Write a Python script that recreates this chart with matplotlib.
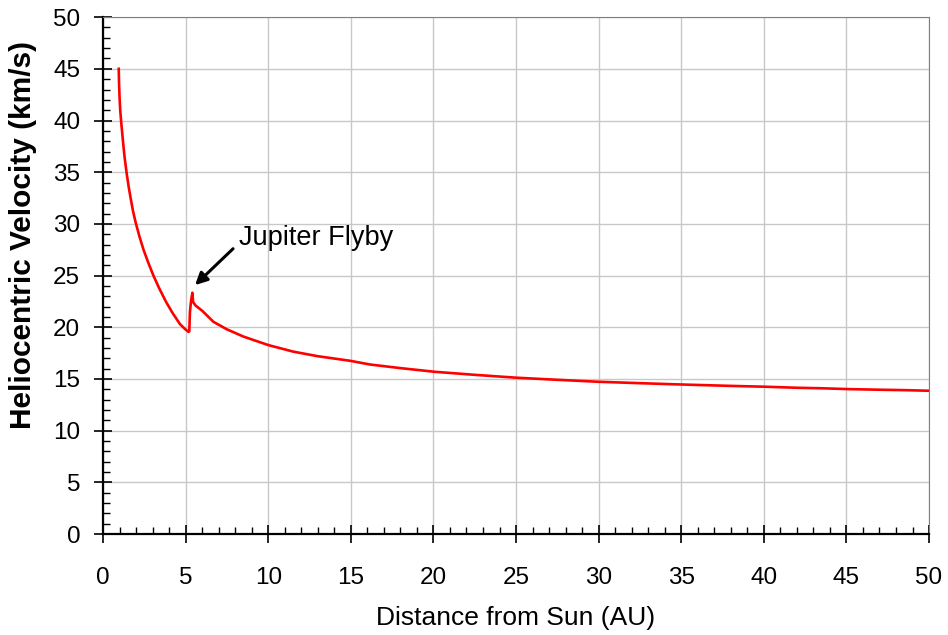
import matplotlib.pyplot as plt
import numpy as np

plt.rcParams['font.family'] = ['Liberation Sans', 'DejaVu Sans']

# distance from Sun (AU) and heliocentric velocity (km/s)
dist = [0.95, 0.97, 1.0, 1.04, 1.09, 1.2, 1.3, 1.42, 1.55, 1.68, 1.82, 1.98,
        2.2, 2.45, 2.75, 3.05, 3.39, 3.8, 4.2, 4.66, 4.95, 5.1, 5.17, 5.22, 5.26,
        5.31, 5.35, 5.41, 5.45, 5.6, 6.0, 6.68, 7.5, 8.5, 10.0, 11.5, 13.0,
        14.95, 16.16, 18.0, 20.04, 22.5, 25.04, 27.5, 29.98, 32.0, 34.3, 36.0,
        38.0, 40.07, 42.0, 43.5, 45.1, 47.0, 48.5, 50.0]
vel = [45.0, 43.5, 42.2, 41.0, 40.0, 38.1, 36.5, 35.0, 33.6, 32.4, 31.2, 30.1,
       28.8, 27.5, 26.2, 25.0, 23.8, 22.5, 21.4, 20.3, 19.85, 19.65, 19.56, 19.6, 21.5,
       22.3, 22.8, 23.34, 22.45, 22.1, 21.6, 20.53, 19.8, 19.1, 18.28, 17.65, 17.2,
       16.76, 16.4, 16.05, 15.7, 15.4, 15.12, 14.92, 14.73, 14.62, 14.5, 14.42,
       14.33, 14.25, 14.15, 14.1, 14.02, 13.96, 13.92, 13.86]

fig = plt.figure(figsize=(9.48, 6.35), dpi=100)
ax = fig.add_axes([0.1087, 0.159, 0.8713, 0.814])

ax.plot(dist, vel, color='#ff0000', lw=1.9, zorder=3)

ax.set_xlim(0, 50)
ax.set_ylim(0, 50)
ax.set_xticks(np.arange(0, 51, 5))
ax.set_yticks(np.arange(0, 51, 5))
ax.set_xticks(np.arange(0, 51, 1), minor=True)
ax.set_yticks(np.arange(0, 51, 1), minor=True)
ax.grid(True, which='major', color='#c8c8c8', lw=1.0)
ax.set_axisbelow(True)

ax.tick_params(which='major', direction='inout', length=13, width=1.2,
               labelsize=17.5, color='black')
ax.tick_params(axis='x', which='major', pad=17)
ax.tick_params(axis='y', which='major', pad=10)
ax.tick_params(which='minor', direction='in', length=5, width=1.0, color='black')

ax.spines['left'].set_linewidth(1.6)
ax.spines['bottom'].set_linewidth(1.6)
ax.spines['top'].set_color('#808080')
ax.spines['right'].set_color('#808080')

ax.set_xlabel('Distance from Sun (AU)', fontsize=19, va='center')
ax.xaxis.set_label_coords(0.5, -0.162)
ax.set_ylabel('Heliocentric Velocity (km/s)', fontsize=21.5, fontweight='bold',
              va='center')
ax.yaxis.set_label_coords(-0.097, 0.578)

# arrow and label for the flyby
ax.annotate('', xy=(5.57, 24.08), xytext=(7.87, 27.6),
            arrowprops=dict(arrowstyle='-|>', color='black', lw=2.2,
                            mutation_scale=18, shrinkA=0, shrinkB=0))
ax.text(8.2, 28.6, 'Jupiter Flyby', fontsize=19.5, va='center', ha='left')

fig.savefig('out.png', dpi=100)
